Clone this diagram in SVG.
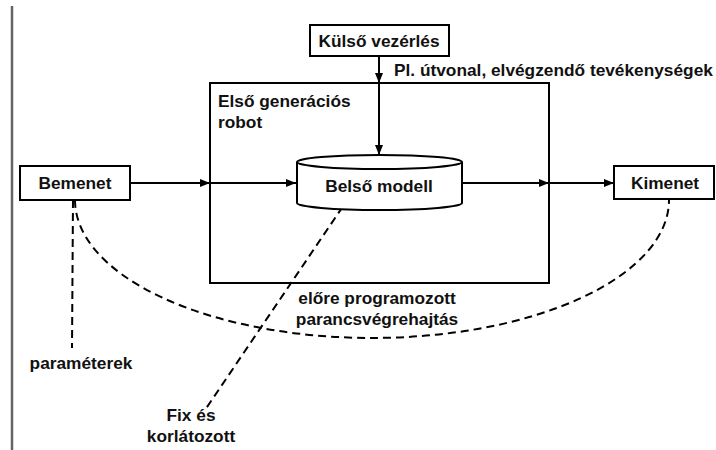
<svg xmlns="http://www.w3.org/2000/svg" width="716" height="450" viewBox="0 0 716 450">
<defs>
<marker id="ah" viewBox="0 0 10 8" refX="10" refY="4" markerWidth="10" markerHeight="8" markerUnits="userSpaceOnUse" orient="auto">
<path d="M0,0 L10,4 L0,8 Z" fill="#000"/>
</marker>
<style>
.box{fill:#fff;stroke:#000;stroke-width:2}
.frame{fill:none;stroke:#000;stroke-width:2}
.t{font-family:"Liberation Sans",Arial,sans-serif;font-weight:bold;font-size:17.3px;fill:#111}
.m{text-anchor:middle}
.ln{fill:none;stroke:#000;stroke-width:2}
.dash{fill:none;stroke:#000;stroke-width:2;stroke-dasharray:8 5}
</style>
</defs>
<rect width="716" height="450" fill="#fff"/>
<line x1="12" y1="6" x2="12" y2="450" stroke="#666" stroke-width="2.5"/>

<g id="robot">
<rect class="frame" x="210" y="83" width="339" height="200"/>
<text class="t" x="218" y="107">Első generációs</text>
<text class="t" x="218" y="128">robot</text>
</g>

<g id="connectors">
<line class="ln" x1="130" y1="183" x2="210" y2="183" marker-end="url(#ah)"/>
<line class="ln" x1="210" y1="183" x2="296" y2="183" marker-end="url(#ah)"/>
<line class="ln" x1="462" y1="183" x2="549" y2="183" marker-end="url(#ah)"/>
<line class="ln" x1="549" y1="183" x2="614" y2="183" marker-end="url(#ah)"/>
<line class="ln" x1="379" y1="56" x2="379" y2="83" marker-end="url(#ah)"/>
<line class="ln" x1="379" y1="83" x2="379" y2="155" marker-end="url(#ah)"/>
<path class="dash" d="M75,200 A297,138 0 0 0 669,200"/>
<line class="dash" x1="73" y1="200" x2="72" y2="348"/>
<line class="dash" x1="350" y1="196" x2="205" y2="410"/>
</g>

<g id="kulso">
<rect class="box" x="310" y="25" width="139" height="31"/>
<text class="t m" x="379" y="47">Külső vezérlés</text>
</g>
<text class="t" x="394" y="76">Pl. útvonal, elvégzendő tevékenységek</text>

<g id="bemenet">
<rect class="box" x="20" y="166" width="110" height="34"/>
<text class="t m" x="75" y="189">Bemenet</text>
</g>

<g id="belso">
<path class="box" d="M297,162 L297,203 A82.5,7 0 0 0 462,203 L462,162"/>
<ellipse class="box" cx="379.5" cy="162" rx="82.5" ry="7"/>
<text class="t m" x="379" y="192">Belső modell</text>
</g>

<g id="kimenet">
<rect class="box" x="614" y="166" width="100" height="33"/>
<text class="t m" x="665" y="189">Kimenet</text>
</g>

<text class="t m" x="81" y="369">paraméterek</text>
<text class="t m" x="191" y="421">Fix és</text>
<text class="t m" x="191" y="442">korlátozott</text>
<text class="t m" x="377" y="304">előre programozott</text>
<text class="t m" x="377" y="325">parancsvégrehajtás</text>
</svg>
